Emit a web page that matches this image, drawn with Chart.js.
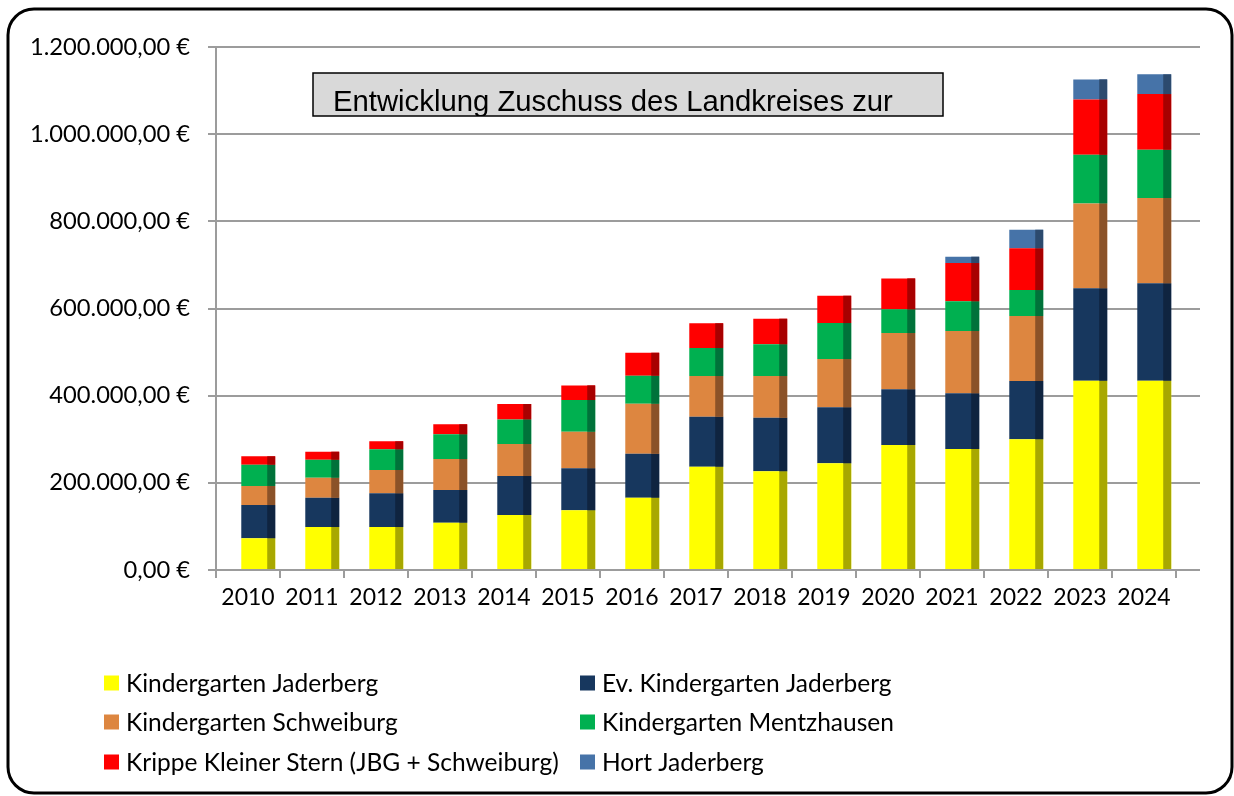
<!DOCTYPE html>
<html>
<head>
<meta charset="utf-8">
<script src="https://cdn.jsdelivr.net/npm/chart.js@4/dist/chart.umd.min.js"></script>
<style>
html,body{margin:0;padding:0;background:#fff;}
canvas{display:block;}
</style>
</head>
<body>
<canvas id="c" width="1234" height="796"></canvas>
<script>
const years = ['2010','2011','2012','2013','2014','2015','2016','2017','2018','2019','2020','2021','2022','2023','2024'];
const kgJaderberg   = [72700, 98600, 98600, 108600, 126200, 136900, 165900, 237000, 226400, 244700, 286800, 277600, 299800, 434300, 434300];
const evKgJaderberg = [76300, 67300, 77300, 74900, 89400, 96400, 100900, 114700, 123000, 128500, 127700, 127700, 133800, 211900, 223400];
const kgSchweiburg  = [44000, 45900, 53500, 71100, 73400, 84000, 114700, 93300, 95600, 110800, 129200, 143000, 149100, 195000, 195700];
const kgMentzhausen = [48600, 41200, 47400, 56600, 56600, 72700, 64300, 64300, 72800, 82600, 54300, 68100, 59600, 111500, 110800];
const krippe        = [19200, 18400, 18400, 23000, 35200, 33600, 52700, 56700, 58800, 62700, 71000, 87900, 95700, 127100, 127800];
const hortJaderberg = [0, 0, 0, 0, 0, 0, 0, 0, 0, 0, 0, 14500, 42700, 45900, 45200];
const seriesLabels = ['Kindergarten Jaderberg','Ev. Kindergarten Jaderberg','Kindergarten Schweiburg','Kindergarten Mentzhausen','Krippe Kleiner Stern (JBG + Schweiburg)','Hort Jaderberg'];
const titleText = 'Entwicklung Zuschuss des Landkreises zur';

const faceColors = ['#FFFF00','#17375E','#DD8640','#00B050','#FF0000','#4673A8'];
const sideColors = ['#A8A800','#0F2440','#8B5228','#00723A','#A80000','#2C4A6E'];
const GRID = '#9c9c9c';
const FONT = 'Lato';

function fmtEuro(v){
  const s = Math.round(v).toString().replace(/\B(?=(\d{3})+(?!\d))/g,'.');
  return s + ',00 €';
}

const seriesData = [kgJaderberg, evKgJaderberg, kgSchweiburg, kgMentzhausen, krippe, hortJaderberg];

const shiftPlugin = {
  id:'shift',
  afterDatasetsUpdate(chart){
    const xs = chart.scales.x;
    const cw = xs.getPixelForValue(1) - xs.getPixelForValue(0);
    const sh = cw*0.16;
    chart.getSortedVisibleDatasetMetas().forEach(m=>{
      m.data.forEach(el=>{ el.x += sh; });
    });
  }
};

const sidePlugin = {
  id:'side',
  afterDatasetsDraw(chart){
    const ctx = chart.ctx;
    ctx.save();
    chart.getSortedVisibleDatasetMetas().forEach(m=>{
      const col = sideColors[m.index];
      m.data.forEach(el=>{
        const h = el.base - el.y;
        if (Math.abs(h) < 0.5) return;
        const sw = el.width*0.235;
        ctx.fillStyle = col;
        ctx.fillRect(el.x + el.width/2 - sw, Math.min(el.y, el.base), sw, Math.abs(h));
      });
    });
    ctx.restore();
  }
};

const decorPlugin = {
  id:'decor',
  beforeDatasetsDraw(chart){
    const ctx = chart.ctx, ys = chart.scales.y, ca = chart.chartArea;
    ctx.save();
    ctx.strokeStyle = GRID; ctx.lineWidth = 2;
    ys.ticks.forEach(t=>{
      const y = Math.round(ys.getPixelForValue(t.value));
      ctx.beginPath(); ctx.moveTo(ca.right-1, y); ctx.lineTo(ca.right+24, y); ctx.stroke();
    });
    ctx.restore();
  },
  afterDraw(chart){
    const ctx = chart.ctx;
    ctx.save();
    // title box
    ctx.fillStyle = '#D9D9D9';
    ctx.fillRect(313, 73, 630, 43);
    ctx.strokeStyle = '#000'; ctx.lineWidth = 1.5;
    ctx.strokeRect(313, 73, 630, 43);
    ctx.beginPath(); ctx.rect(313, 73, 630, 43); ctx.clip();
    ctx.font = '100px "Liberation Sans"';
    const w = ctx.measureText(titleText).width;
    const fs = 100*560/w;
    ctx.font = fs.toFixed(2)+'px "Liberation Sans"';
    ctx.fillStyle = '#000'; ctx.textBaseline = 'alphabetic'; ctx.textAlign='left';
    ctx.fillText(titleText, 333, 111);
    ctx.restore();

    // legend (two columns)
    ctx.save();
    ctx.font = '24.5px '+FONT;
    ctx.textBaseline = 'middle'; ctx.textAlign = 'left';
    const colX = [104, 580];
    const rowY = [683, 722, 762];
    chart.data.datasets.forEach((ds,i)=>{
      const c = i%2, r = Math.floor(i/2);
      ctx.fillStyle = ds.backgroundColor;
      ctx.fillRect(colX[c], rowY[r]-7.5, 15, 15);
      ctx.fillStyle = '#000';
      ctx.fillText(ds.label, colX[c]+22, rowY[r]+1);
    });
    ctx.restore();

    // outer rounded border
    ctx.save();
    ctx.strokeStyle = '#000'; ctx.lineWidth = 3;
    ctx.beginPath();
    ctx.roundRect(8, 9, 1224, 784, 26);
    ctx.stroke();
    ctx.restore();
  }
};

new Chart(document.getElementById('c'), {
  type:'bar',
  data:{
    labels: years,
    datasets: seriesLabels.map((lab,i)=>({
      label: lab,
      data: seriesData[i],
      backgroundColor: faceColors[i],
      borderWidth: 0,
      barPercentage: 0.53,
      categoryPercentage: 1.0
    }))
  },
  options:{
    responsive:false,
    animation:false,
    devicePixelRatio:1,
    layout:{padding:{left:0, right:58, top:47, bottom:0}},
    plugins:{legend:{display:false}, tooltip:{enabled:false}, title:{display:false}},
    scales:{
      x:{
        stacked:true,
        grid:{display:true, drawOnChartArea:false, drawTicks:true, tickLength:8, color:GRID, lineWidth:2, offset:true},
        border:{display:true, color:GRID, width:2},
        ticks:{font:{family:FONT, size:23}, color:'#000', padding:6, maxRotation:0, autoSkip:false},
        afterFit(s){ s.height = 226; }
      },
      y:{
        stacked:true,
        min:0, max:1200000,
        ticks:{stepSize:200000, font:{family:FONT, size:23.7}, color:'#000', padding:18, callback:(v)=>fmtEuro(v)},
        grid:{color:GRID, lineWidth:2, tickLength:8, drawTicks:true},
        border:{display:true, color:GRID, width:2},
        afterFit(s){ s.width = 216; }
      }
    }
  },
  plugins:[shiftPlugin, sidePlugin, decorPlugin]
});
</script>
</body>
</html>
